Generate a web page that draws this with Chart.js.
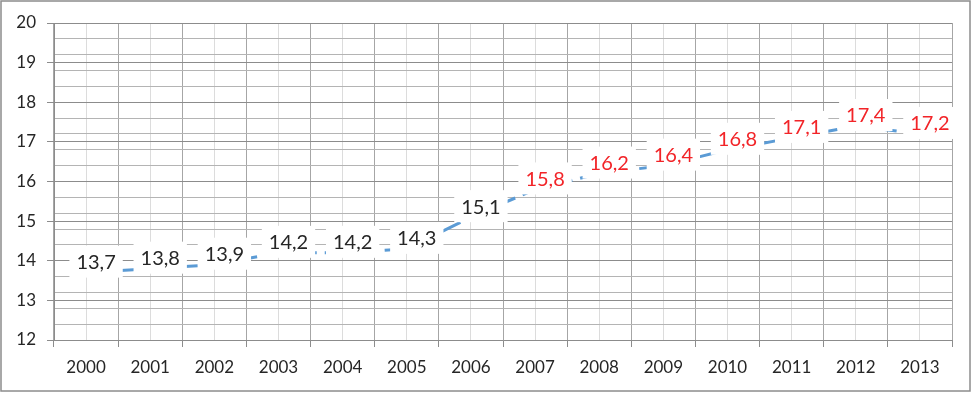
<!DOCTYPE html>
<html>
<head>
<meta charset="utf-8">
<script src="https://cdn.jsdelivr.net/npm/chart.js@4.4.1/dist/chart.umd.min.js"></script>
<style>
  html, body { margin: 0; padding: 0; background: #fff; }
  canvas { display: block; }
</style>
</head>
<body>
<canvas id="grafico" width="976" height="393"></canvas>
<script>
'use strict';

// dati
const anni = ['2000', '2001', '2002', '2003', '2004', '2005', '2006',
              '2007', '2008', '2009', '2010', '2011', '2012', '2013'];
const valori = [13.7, 13.8, 13.9, 14.2, 14.2, 14.3, 15.1,
                15.8, 16.2, 16.4, 16.8, 17.1, 17.4, 17.2];
const yMin = 12;
const yMax = 20;

const FONT = "Lato, 'Open Sans', sans-serif";
const BLU = '#5b9bd5';

function isInt(v) { return Math.abs(v - Math.round(v)) < 1e-6; }
function isMinor(v) { const k = (v - yMin) / 0.4; return Math.abs(k - Math.round(k)) < 1e-6; }

// cornice esterna
const cornice = {
  id: 'cornice',
  beforeDraw(chart) {
    const ctx = chart.ctx;
    ctx.save();
    ctx.fillStyle = '#fff';
    ctx.fillRect(0, 0, chart.width, chart.height);
    ctx.strokeStyle = '#8c8c8c';
    ctx.lineWidth = 1.5;
    ctx.strokeRect(1, 1, 969, 390);
    ctx.restore();
  }
};

// etichette dati con sfondo bianco
const etichette = {
  id: 'etichette',
  afterDatasetsDraw(chart) {
    const ctx = chart.ctx;
    const meta = chart.getDatasetMeta(0);
    ctx.save();
    ctx.font = '20px ' + FONT;
    ctx.textAlign = 'center';
    ctx.textBaseline = 'middle';
    meta.data.forEach((pt, i) => {
      const txt = valori[i].toFixed(1).replace('.', ',');
      const cx = pt.x + 10, cy = pt.y - 11;
      const w = ctx.measureText(txt).width + 14;
      ctx.fillStyle = '#fff';
      ctx.fillRect(cx - w / 2, cy - 16, w, 32);
      ctx.fillStyle = i >= 7 ? '#f22428' : '#262626';
      ctx.fillText(txt, cx, cy + 1);
    });
    ctx.restore();
  }
};

new Chart(document.getElementById('grafico').getContext('2d'), {
  type: 'line',
  data: {
    labels: anni,
    datasets: [{
      data: valori,
      borderColor: BLU,
      backgroundColor: BLU,
      borderWidth: 3,
      borderDash: [22, 8],
      pointRadius: 3.5,
      pointBorderWidth: 0,
      tension: 0,
      fill: false
    }]
  },
  options: {
    responsive: false,
    animation: false,
    layout: { padding: { top: 23, right: 24, left: 0, bottom: 0 } },
    plugins: { legend: { display: false }, tooltip: { enabled: false } },
    scales: {
      x: {
        type: 'category',
        offset: true,
        grid: { offset: true, color: '#a6a6a6', tickLength: 7, tickColor: '#8c8c8c' },
        border: { color: '#8c8c8c' },
        ticks: { color: '#262626', font: { family: FONT, size: 17 }, padding: 10, maxRotation: 0 },
        afterFit: s => { s.height = 53; }
      },
      x2: {
        type: 'category',
        labels: anni,
        offset: true,
        position: 'bottom',
        grid: { offset: false, color: '#dcdcdc', drawTicks: false },
        border: { display: false },
        ticks: { display: false },
        afterFit: s => { s.height = 0; }
      },
      y: {
        min: yMin,
        max: yMax,
        ticks: {
          stepSize: 0.2,
          autoSkip: false,
          maxTicksLimit: 100,
          color: '#262626',
          font: { family: FONT, size: 17 },
          padding: 11,
          callback: v => isInt(v) ? String(Math.round(v)) : ''
        },
        grid: {
          tickLength: 7,
          color: c => isInt(c.tick.value) ? '#8c8c8c' : (isMinor(c.tick.value) ? '#b4b4b4' : 'rgba(0,0,0,0)'),
          tickColor: c => isInt(c.tick.value) ? '#8c8c8c' : 'rgba(0,0,0,0)'
        },
        border: { color: '#8c8c8c' },
        afterFit: s => { s.width = 54; }
      }
    }
  },
  plugins: [cornice, etichette]
});
</script>
</body>
</html>
